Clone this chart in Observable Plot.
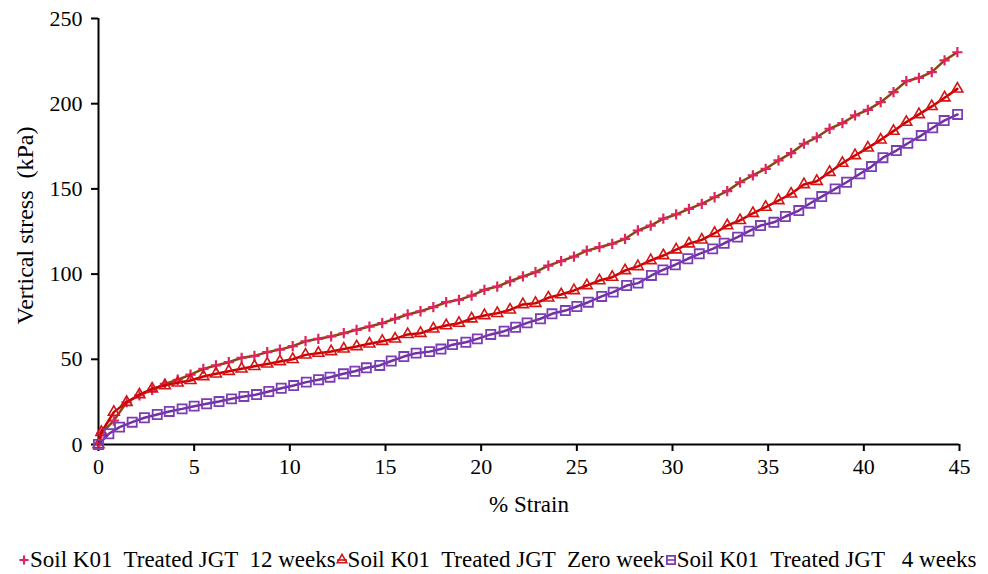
<!DOCTYPE html>
<html>
<head>
<meta charset="utf-8">
<script src="https://cdn.jsdelivr.net/npm/d3@7"></script>
<script src="https://cdn.jsdelivr.net/npm/@observablehq/plot@0.6"></script>
<style>
  html, body { margin: 0; padding: 0; background: #fff; overflow: hidden; }
  #chart svg { display: block; }
  #chart svg text { white-space: pre; }
  #legend {
    position: absolute; top: 546px; left: 18px;
    font-family: "Liberation Serif", "Times New Roman", serif;
    font-size: 23px; line-height: 28px; color: #000;
    white-space: pre; display: flex; align-items: center;
  }
  #legend .item { display: flex; align-items: center; }
  #legend svg { display: block; }
</style>
</head>
<body>
<div id="chart"></div>
<div id="legend"></div>
<script>
// Strain (%) sample positions for the 12-week and zero-week tests
const strainA = [0, 0.15, 0.80, 1.47, 2.14, 2.80, 3.47, 4.14, 4.81, 5.48, 6.14, 6.81, 7.48, 8.15, 8.82, 9.48,
  10.15, 10.82, 11.49, 12.16, 12.82, 13.49, 14.16, 14.83, 15.50, 16.16, 16.83, 17.50, 18.17, 18.84, 19.50,
  20.17, 20.84, 21.51, 22.18, 22.84, 23.51, 24.18, 24.85, 25.52, 26.18, 26.85, 27.52, 28.19, 28.86, 29.52,
  30.19, 30.86, 31.53, 32.20, 32.86, 33.53, 34.20, 34.87, 35.54, 36.20, 36.87, 37.54, 38.21, 38.88, 39.54,
  40.21, 40.88, 41.55, 42.22, 42.88, 43.55, 44.22, 44.89];

// Strain (%) sample positions for the 4-week test
const strainB = [0, 0.54, 1.1, 1.76, 2.4, 3.07, 3.7, 4.37, 5.0, 5.65, 6.3, 6.95, 7.6, 8.26, 8.9, 9.55,
  10.2, 10.86, 11.5, 12.1, 12.8, 13.4, 14.0, 14.7, 15.3, 15.96, 16.6, 17.3, 17.9, 18.5, 19.2, 19.8,
  20.5, 21.2, 21.8, 22.4, 23.1, 23.7, 24.4, 25.0, 25.6, 26.3, 26.9, 27.6, 28.2, 28.9, 29.5, 30.15,
  30.8, 31.4, 32.1, 32.7, 33.4, 34.0, 34.6, 35.3, 35.9, 36.6, 37.2, 37.8, 38.5, 39.1, 39.8, 40.4,
  41.0, 41.7, 42.3, 43.0, 43.6, 44.2, 44.9];

// Vertical stress (kPa)
const stress12Weeks = [0, 6.5, 14, 24.8, 28.8, 32.1, 35.6, 38, 41, 44.4, 46.4, 48.3, 50.9, 52, 54.2, 55.7,
  57.7, 60.6, 62, 63.4, 65.3, 67.3, 69.2, 71.2, 73.8, 76.3, 78.2, 80.6, 83.5, 84.9, 87.4, 90.8, 92.7,
  95.8, 98.6, 101.1, 105, 107.6, 110.3, 113.8, 115.8, 117.8, 120.7, 125.6, 128.5, 132.5, 135, 138.3,
  141.2, 145.1, 148.7, 153.9, 157.9, 161.8, 166.7, 171, 176.5, 180.3, 185.3, 188.6, 193.1, 196.4,
  200.9, 206.8, 213.2, 215.2, 218.5, 225.4, 230.2];

const stressZeroWeek = [0, 7.2, 19, 24.8, 29.3, 32.7, 34.6, 36.2, 37.6, 39.9, 41.5, 43, 44.4, 45.9, 47.3,
  48.7, 50, 52.6, 53.6, 54.6, 56.1, 57.5, 59.1, 60.6, 62, 64.6, 65.3, 67.9, 69.8, 71.2, 73.8, 75.7, 77,
  79, 82.2, 82.9, 86.1, 88, 90.4, 93.3, 96.2, 98.2, 102.1, 104.5, 108, 110.9, 114.3, 117.8, 120.1, 124,
  128.5, 131.5, 135.7, 139.3, 143.2, 147.1, 152.6, 154.5, 159.8, 165.1, 169.6, 174.1, 178.8, 183.9,
  189.2, 193.7, 198.4, 203.5, 208.7];

const stress4Weeks = [0, 6.3, 10.2, 13.1, 15.7, 17.6, 19.4, 20.9, 22.5, 23.9, 25.2, 26.8, 28.2, 29.3, 31.1,
  33, 34.6, 36.6, 38, 39.5, 41.5, 43, 45, 46.4, 49, 51.6, 53.6, 54.5, 56, 58.6, 60, 62, 64.6, 66.5, 68.8,
  71.4, 73.8, 76.7, 78.6, 81, 83.5, 86.9, 89.4, 93.3, 94.7, 99.2, 102.5, 105.5, 109, 111.9, 114.8, 118.1,
  121.7, 125.2, 128.5, 130.4, 133.8, 137.3, 141.6, 145.5, 150, 153.9, 158.9, 163.1, 168.3, 172.5, 176.8,
  181.3, 185.9, 190.1, 193.7];

const seriesNames = ["Soil K01  Treated JGT  12 weeks", "Soil K01  Treated JGT  Zero week", "Soil K01  Treated JGT   4 weeks"];
const xTicks = [0, 5, 10, 15, 20, 25, 30, 35, 40, 45];
const yTicks = [0, 50, 100, 150, 200, 250];
const xLabel = "% Strain";
const yLabel = "Vertical stress  (kPa)";

const series = [
  {name: seriesNames[0], strain: strainA, stress: stress12Weeks, line: "#8B4513", mark: "#E0245E", symbol: "plus", r: 3.4, sw: 2.2},
  {name: seriesNames[1], strain: strainA, stress: stressZeroWeek, line: "#CC0000", mark: "#D41414", symbol: "triangle2", r: 5.2, sw: 1.6},
  {name: seriesNames[2], strain: strainB, stress: stress4Weeks, line: "#7030A0", mark: "#7B3DB5", symbol: "square2", r: 5.8, sw: 1.8}
];

const marks = [
  Plot.axisX({ticks: xTicks, tickSize: 7, tickPadding: 7, strokeWidth: 2, label: null, fontSize: 22}),
  Plot.axisY({ticks: yTicks, tickSize: 7, tickPadding: 9, strokeWidth: 2, label: null, fontSize: 22}),
  Plot.ruleY([0], {stroke: "#000", strokeWidth: 2}),
  Plot.ruleX([0], {stroke: "#000", strokeWidth: 2})
];
for (const s of series) {
  const rows = s.strain.map((x, i) => ({x, y: s.stress[i]}));
  marks.push(Plot.line(rows, {x: "x", y: "y", stroke: s.line, strokeWidth: 2.5}));
  marks.push(Plot.dot(rows, {x: "x", y: "y", symbol: () => s.symbol, r: s.r, stroke: s.mark, fill: "none", strokeWidth: s.sw}));
}
marks.push(Plot.text([xLabel], {text: d => d, frameAnchor: "bottom", textAnchor: "middle", dy: 67, fontSize: 23}));
marks.push(Plot.text([yLabel], {text: d => d, frameAnchor: "left", textAnchor: "middle", dx: -73, dy: -6, rotate: -90, fontSize: 24}));

const chart = Plot.plot({
  width: 988, height: 530,
  marginTop: 18, marginBottom: 86, marginLeft: 98, marginRight: 29,
  style: {fontFamily: "'Liberation Serif', 'Times New Roman', serif", fontSize: "22px", color: "#000", background: "#fff", overflow: "visible"},
  x: {domain: [0, 45]},
  y: {domain: [0, 250]},
  symbol: {type: "identity"},
  marks
});
document.getElementById("chart").appendChild(chart);

// Legend
const legend = document.getElementById("legend");
const ns = "http://www.w3.org/2000/svg";
series.forEach((s, i) => {
  const item = document.createElement("div");
  item.className = "item";
  const svg = document.createElementNS(ns, "svg");
  svg.setAttribute("width", 12); svg.setAttribute("height", 20);
  const g = document.createElementNS(ns, "g");
  g.setAttribute("transform", "translate(6,10)");
  const path = document.createElementNS(ns, "path");
  const sym = {plus: d3.symbolPlus, triangle2: d3.symbolTriangle2, square2: d3.symbolSquare2}[s.symbol];
  path.setAttribute("d", d3.symbol(sym, Math.PI * s.r * s.r * 0.8)());
  path.setAttribute("fill", "none");
  path.setAttribute("stroke", s.mark);
  path.setAttribute("stroke-width", s.sw);
  if (s.symbol !== "plus") {
    const ln = document.createElementNS(ns, "line");
    ln.setAttribute("x1", -5); ln.setAttribute("x2", 5);
    ln.setAttribute("stroke", s.line); ln.setAttribute("stroke-width", 1.5);
    g.appendChild(ln);
  }
  g.appendChild(path);
  svg.appendChild(g);
  item.appendChild(svg);
  const span = document.createElement("span");
  span.textContent = s.name;
  item.appendChild(span);
  legend.appendChild(item);
});
</script>
</body>
</html>
